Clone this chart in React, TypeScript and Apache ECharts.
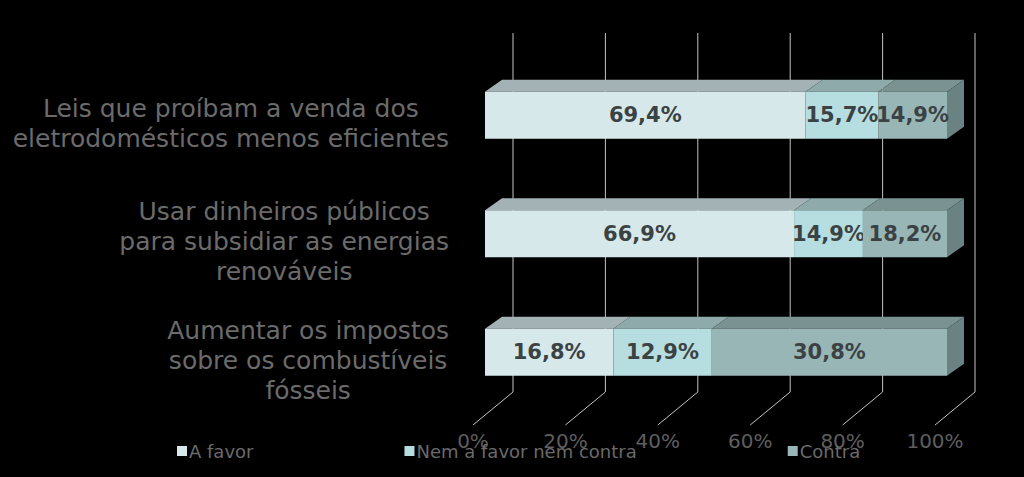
import React, { useEffect, useRef } from "react";
import * as echarts from "echarts";

const categories = [
  "Leis que proíbam a venda dos\neletrodomésticos menos eficientes",
  "Usar dinheiros públicos\npara subsidiar as energias\nrenováveis",
  "Aumentar os impostos\nsobre os combustíveis\nfósseis",
];
const seriesNames = ["A favor", "Nem a favor nem contra", "Contra"];
const aFavor = [69.4, 66.9, 16.8];
const nemNem = [15.7, 14.9, 12.9];
const contra = [14.9, 18.2, 30.8];
const tickValues = [0, 20, 40, 60, 80, 100];

const frontColors = ["#d6e8ea", "#b6dddf", "#98b6b6"];
const topColors = ["#a3b2b4", "#8eaaab", "#7a9291"];
const sideColor = "#6a8281";

const DX = 17;
const DY = -12;
const BAR_H = 47;
const FONT = "'DejaVu Sans', Verdana, sans-serif";

export default function App() {
  const ref = useRef<HTMLDivElement>(null);
  useEffect(() => {
    if (!ref.current) return;
    const chart = echarts.init(ref.current, null, { renderer: "svg" });
    const all = [aFavor, nemNem, contra];
    const totals = categories.map((_, i) => all.reduce((s, a) => s + a[i], 0));

    const barSeries = all.map((vals, si) => {
      const data = vals.map((v, ci) => {
        let start = 0;
        for (let k = 0; k < si; k++) start += (all[k][ci] / totals[ci]) * 100;
        const end = start + (v / totals[ci]) * 100;
        return [ci, start, end, v];
      });
      return {
        type: "custom",
        name: seriesNames[si],
        xAxisIndex: 0,
        yAxisIndex: 0,
        z: 5 + si,
        itemStyle: { color: frontColors[si] },
        encode: { x: [1, 2], y: 0 },
        renderItem: (params: any, api: any) => {
          const ci = api.value(0);
          const p0 = api.coord([api.value(1), ci]);
          const p1 = api.coord([api.value(2), ci]);
          const x0 = p0[0];
          const x1 = p1[0];
          const yTop = p0[1] - BAR_H / 2;
          const yBot = p0[1] + BAR_H / 2;
          const children: any[] = [
            {
              type: "polygon",
              shape: {
                points: [
                  [x0, yTop],
                  [x1, yTop],
                  [x1 + DX, yTop + DY],
                  [x0 + DX, yTop + DY],
                ],
              },
              style: { fill: topColors[si] },
            },
            {
              type: "rect",
              shape: { x: x0, y: yTop, width: x1 - x0, height: BAR_H },
              style: { fill: frontColors[si] },
            },
          ];
          if (si === all.length - 1) {
            children.push({
              type: "polygon",
              shape: {
                points: [
                  [x1, yTop],
                  [x1 + DX, yTop + DY],
                  [x1 + DX, yBot + DY],
                  [x1, yBot],
                ],
              },
              style: { fill: sideColor },
            });
          }
          children.push({
            type: "text",
            x: (x0 + x1) / 2,
            y: p0[1],
            style: {
              text: api.value(3).toFixed(1).replace(".", ",") + "%",
              align: "center",
              verticalAlign: "middle",
              fill: "#3b4244",
              font: "bold 21px " + FONT,
            },
          });
          return { type: "group", children };
        },
        data,
      };
    });

    const gridSeries = {
      type: "custom",
      xAxisIndex: 0,
      yAxisIndex: 0,
      z: 1,
      silent: true,
      renderItem: (params: any, api: any) => {
        const p = api.coord([api.value(0), 0]);
        const xw = p[0] + 28;
        return {
          type: "group",
          children: [
            {
              type: "line",
              shape: { x1: xw, y1: 33, x2: xw, y2: 392 },
              style: { stroke: "#c4c4c4", lineWidth: 1 },
            },
            {
              type: "line",
              shape: { x1: xw, y1: 392, x2: xw - 40, y2: 425 },
              style: { stroke: "#c4c4c4", lineWidth: 1 },
            },
          ],
        };
      },
      data: tickValues.map((v) => [v]),
    };

    chart.setOption({
      animation: false,
      backgroundColor: "#000000",
      grid: [
        { left: 485, right: 77, top: 56, bottom: 65.5 },
        { left: 473, right: 89, top: 56, bottom: 65.5 },
      ],
      xAxis: [
        {
          type: "value",
          gridIndex: 0,
          min: 0,
          max: 100,
          interval: 20,
          axisLine: { show: false },
          axisTick: { show: false },
          splitLine: { show: false },
          axisLabel: { show: false },
        },
        {
          type: "value",
          gridIndex: 1,
          min: 0,
          max: 100,
          interval: 20,
          axisLine: { show: false },
          axisTick: { show: false },
          splitLine: { show: false },
          axisLabel: {
            margin: 19,
            color: "#5e5e5e",
            fontSize: 20,
            fontFamily: FONT,
            formatter: (v: number) => v + "%",
          },
        },
      ],
      yAxis: [
        {
          type: "category",
          gridIndex: 0,
          inverse: true,
          data: categories,
          axisLine: { show: false },
          axisTick: { show: false },
          axisLabel: {
            margin: 36,
            align: "right",
            padding: [16, 0, 0, 0],
            color: "#6b6b6b",
            fontSize: 25,
            lineHeight: 30,
            fontFamily: FONT,
            formatter: (v: string) =>
              v
                .split("\n")
                .map((l) => "{c|" + l + "}")
                .join("\n"),
            rich: {
              c: {
                align: "center",
                color: "#6b6b6b",
                fontSize: 25,
                lineHeight: 30,
                fontFamily: FONT,
              },
            },
          },
        },
        {
          type: "category",
          gridIndex: 1,
          show: false,
          data: categories,
        },
      ],
      legend: {
        left: 172,
        top: 437,
        itemWidth: 10,
        itemHeight: 10,
        itemGap: 151,
        icon: "rect",
        textStyle: {
          color: "#6a6a6a",
          fontSize: 18,
          fontFamily: FONT,
          padding: [0, 0, 0, -3],
        },
        data: seriesNames.map((n, i) => ({ name: n, itemStyle: { color: frontColors[i] } })),
      },
      series: [gridSeries, ...barSeries],
    });
    return () => chart.dispose();
  }, []);
  return <div ref={ref} style={{ width: 1024, height: 477, position: "absolute", left: 0, top: 0 }} />;
}
